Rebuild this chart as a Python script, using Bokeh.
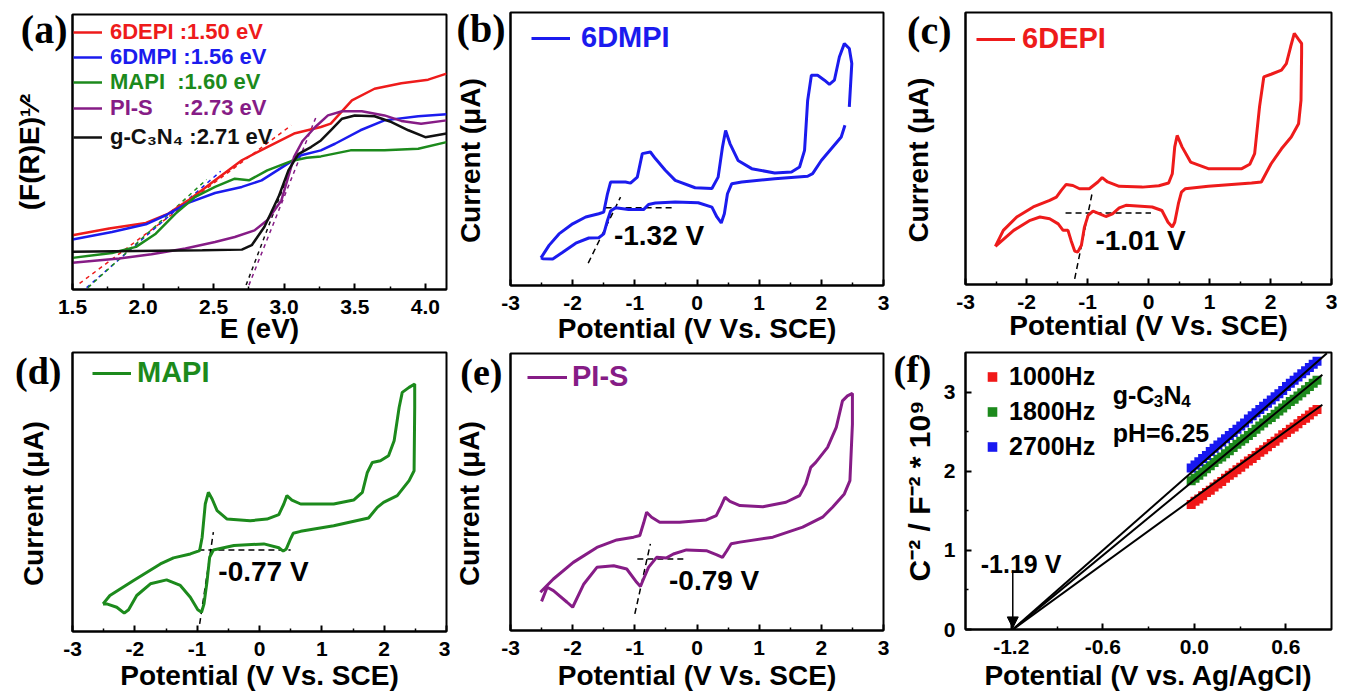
from bokeh.plotting import figure
from bokeh.layouts import row, column
from bokeh.models import (Range1d, FixedTicker, NumeralTickFormatter, Label, Legend,
                          LegendItem, Arrow, NormalHead, LinearAxis)
from bokeh.core.properties import value
from bokeh.embed import file_html
from bokeh.resources import INLINE

SANS = "Liberation Sans"
SERIF = "Liberation Serif"
RED = "#ee1b1b"
BLUE = "#1b1bee"
GREEN = "#1c8a1c"
PURPLE = "#861c86"
BLACK = "#111111"
NB = "\u00a0"

# ---------------- (a) Tauc plot data ----------------
a_red_x = [1.50, 1.76, 2.02, 2.18, 2.32, 2.51, 2.70, 2.88, 3.07, 3.26, 3.33, 3.48, 3.64, 3.83, 4.02, 4.15]
a_red_y = [19.7, 22.2, 24.2, 27.6, 32.4, 39.7, 47.0, 51.8, 56.7, 59.1, 60.3, 68.8, 73.0, 75.0, 76.3, 78.5]
a_blue_x = [1.50, 1.78, 2.02, 2.16, 2.32, 2.51, 2.70, 2.84, 2.99, 3.12, 3.26, 3.36, 3.54, 3.71, 3.95, 4.15]
a_blue_y = [18.2, 20.9, 23.7, 27.0, 31.5, 35.1, 37.3, 39.7, 44.6, 48.8, 50.6, 53.0, 57.9, 61.5, 63.0, 63.7]
a_green_x = [1.50, 1.78, 1.95, 2.09, 2.23, 2.37, 2.51, 2.65, 2.75, 2.88, 3.05, 3.16, 3.26, 3.47, 3.71, 3.95, 4.15]
a_green_y = [11.5, 13.3, 15.5, 20.3, 27.6, 33.7, 37.3, 40.3, 39.7, 43.3, 46.7, 47.9, 48.4, 50.6, 50.6, 51.2, 53.6]
a_purple_x = [1.50, 1.83, 2.06, 2.30, 2.51, 2.65, 2.79, 2.88, 2.98, 3.07, 3.13, 3.22, 3.31, 3.41, 3.55, 3.71, 3.83, 3.97, 4.15]
a_purple_y = [9.7, 11.3, 12.8, 14.9, 17.3, 19.1, 21.5, 25.2, 32.4, 48.2, 54.0, 59.1, 63.3, 64.8, 64.8, 63.3, 61.3, 60.3, 61.5]
a_black_x = [1.50, 1.95, 2.42, 2.70, 2.77, 2.86, 2.96, 3.03, 3.10, 3.19, 3.26, 3.33, 3.41, 3.50, 3.64, 3.76, 3.88, 4.00, 4.15]
a_black_y = [13.7, 14.0, 14.3, 14.5, 16.1, 22.8, 33.7, 43.3, 49.2, 51.8, 54.2, 57.9, 62.1, 63.3, 63.0, 60.9, 57.9, 55.4, 56.7]
a_tan_red_x, a_tan_red_y = [1.55, 3.05], [2.2, 59.7]
a_tan_blue_x, a_tan_blue_y = [1.60, 2.55], [0.7, 43.0]
a_tan_green_x, a_tan_green_y = [1.61, 2.45], [0.7, 40.0]
a_tan_purple_x, a_tan_purple_y = [2.75, 3.23], [1.6, 63.3]
a_tan_black_x, a_tan_black_y = [2.73, 3.08], [1.6, 48.8]
a_labels = ["6DEPI :1.50 eV", "6DMPI :1.56 eV", "MAPI" + NB * 2 + ":1.60 eV",
            "PI-S" + NB * 5 + ":2.73 eV", "g-C\u2083N\u2084 :2.71 eV"]
a_ticks = [1.5, 2.0, 2.5, 3.0, 3.5, 4.0]
a_minor = [1.75, 2.25, 2.75, 3.25, 3.75]

# ---------------- CV data (b)-(e) ----------------
cv_ticks = [-3, -2, -1, 0, 1, 2, 3]
cv_minor = [-2.5, -1.5, -0.5, 0.5, 1.5, 2.5]

b_up_x = [-2.51, -2.38, -2.22, -2.00, -1.79, -1.58, -1.50, -1.44, -1.39, -1.15, -1.07, -0.96, -0.88, -0.75,
          -0.67, -0.51, -0.35, -0.03, 0.24, 0.34, 0.41, 0.46, 0.53, 0.66, 0.88, 1.25, 1.52, 1.65, 1.73, 1.78,
          1.84, 1.94, 2.05, 2.13, 2.21, 2.29, 2.37, 2.45, 2.49, 2.45]
b_up_y = [10.1, 14.7, 18.9, 22.6, 25.1, 26.3, 26.9, 33.6, 37.9, 37.9, 37.5, 39.7, 48.3, 48.9, 46.5, 42.2,
          38.5, 35.8, 35.5, 39.7, 50.7, 56.8, 52.0, 45.8, 42.8, 41.2, 41.6, 43.4, 49.5, 67.8, 77.0, 77.0,
          75.2, 73.7, 75.2, 83.7, 88.6, 86.8, 81.3, 65.4]
b_dn_x = [2.38, 2.32, 2.16, 2.00, 1.86, 1.78, 1.25, 0.72, 0.56, 0.49, 0.44, 0.39, 0.32, 0.24, 0.02, -0.35,
          -0.67, -0.78, -0.86, -1.10, -1.31, -1.39, -1.44, -1.50, -1.58, -1.74, -1.95, -2.16, -2.32, -2.48, -2.51]
b_dn_y = [58.7, 54.4, 50.1, 45.8, 41.0, 40.0, 39.1, 37.9, 37.3, 33.6, 26.3, 22.9, 25.1, 28.7, 30.3, 30.6,
          30.2, 29.7, 27.8, 27.8, 28.5, 27.3, 23.8, 18.9, 17.5, 17.4, 15.5, 12.2, 9.7, 9.8, 10.1]

c_x = [-2.51, -2.38, -2.16, -1.89, -1.62, -1.51, -1.43, -1.35, -1.24, -1.13, -0.97, -0.83, -0.76, -0.67,
       -0.48, -0.10, 0.17, 0.33, 0.39, 0.43, 0.47, 0.55, 0.69, 0.98, 1.53, 1.66, 1.74, 1.82, 1.89, 2.01,
       2.18, 2.26, 2.33, 2.39, 2.46, 2.51, 2.51, 2.50, 2.46, 2.34, 2.18, 2.01, 1.85, 1.69, 0.98, 0.60,
       0.54, 0.49, 0.43, 0.39, 0.32, 0.22, 0.06, -0.37, -0.48, -0.59, -0.70, -0.80, -0.91, -0.99, -1.05,
       -1.10, -1.16, -1.21, -1.27, -1.32, -1.40, -1.48, -1.62, -1.78, -1.94, -2.21, -2.43, -2.51]
c_y = [14.0, 19.9, 24.8, 28.5, 30.9, 32.1, 34.6, 36.8, 36.4, 35.2, 35.2, 37.7, 39.3, 37.7, 36.1, 35.8,
       36.3, 37.3, 40.7, 50.6, 54.8, 50.6, 45.0, 42.6, 42.6, 44.2, 48.1, 65.3, 76.3, 77.3, 78.8, 81.2,
       87.4, 92.3, 90.1, 88.6, 84.9, 67.7, 59.1, 54.2, 49.9, 44.4, 37.7, 37.3, 36.1, 35.2, 34.0, 29.7,
       22.9, 21.1, 22.9, 27.2, 28.5, 29.1, 28.2, 26.0, 25.0, 26.0, 27.0, 25.4, 21.1, 14.4, 11.9, 12.3,
       16.2, 19.9, 19.9, 22.3, 24.2, 24.8, 23.6, 19.9, 15.6, 14.0]

d_x = [-2.51, -2.40, -2.02, -1.59, -1.38, -1.11, -0.96, -0.92, -0.87, -0.82, -0.76, -0.68, -0.52, -0.15,
       0.12, 0.31, 0.39, 0.44, 0.52, 0.66, 1.19, 1.51, 1.65, 1.73, 1.81, 1.94, 2.07, 2.16, 2.24, 2.29,
       2.40, 2.49, 2.49, 2.48, 2.40, 2.21, 1.99, 1.89, 1.75, 1.19, 0.66, 0.54, 0.49, 0.43, 0.38, 0.31,
       0.07, -0.41, -0.74, -0.80, -0.84, -0.89, -0.93, -0.99, -1.11, -1.27, -1.49, -1.75, -1.97, -2.10,
       -2.17, -2.29, -2.45, -2.51]
d_y = [9.9, 12.9, 18.3, 24.2, 26.4, 27.8, 29.0, 33.8, 45.7, 49.9, 47.5, 43.3, 40.3, 39.7, 40.3, 41.9,
       45.7, 48.7, 47.1, 45.7, 45.7, 47.1, 49.9, 57.0, 60.6, 61.2, 63.0, 68.4, 80.3, 85.7, 87.5, 88.7,
       80.3, 57.6, 54.1, 48.7, 46.3, 44.5, 40.7, 37.9, 35.9, 35.2, 32.8, 29.6, 28.8, 30.0, 31.4, 30.8,
       29.2, 26.6, 18.3, 9.9, 6.9, 7.8, 12.3, 16.5, 18.5, 17.1, 12.9, 7.8, 6.6, 8.7, 9.9, 9.9]

e_x = [-2.52, -2.31, -1.99, -1.61, -1.29, -1.02, -0.92, -0.86, -0.81, -0.73, -0.60, -0.28, 0.15, 0.31,
       0.39, 0.45, 0.53, 0.69, 1.06, 1.43, 1.65, 1.75, 1.83, 1.91, 2.10, 2.24, 2.34, 2.42, 2.50, 2.50,
       2.46, 2.37, 2.18, 2.02, 1.70, 1.22, 0.69, 0.55, 0.48, 0.41, 0.31, 0.15, -0.17, -0.38, -0.49,
       -0.65, -0.78, -0.86, -0.91, -0.97, -1.13, -1.34, -1.61, -1.82, -2.00, -2.09, -2.31, -2.41, -2.50]
e_y = [13.8, 18.6, 24.6, 30.0, 32.7, 33.7, 34.3, 38.7, 42.7, 40.9, 39.1, 39.1, 39.9, 41.5, 45.1, 48.1,
       46.6, 45.1, 44.7, 46.3, 48.7, 52.9, 58.9, 60.7, 66.1, 73.3, 82.9, 84.7, 85.6, 74.5, 54.1, 49.3,
       44.5, 40.9, 37.3, 33.7, 31.9, 31.3, 28.8, 26.4, 27.4, 28.8, 29.1, 27.6, 26.2, 26.4, 22.8, 18.6,
       15.9, 17.4, 22.2, 23.4, 22.8, 16.8, 8.4, 10.2, 14.4, 15.6, 10.5]

b_h_x, b_h_y = [-1.47, -0.38], [28.5, 28.5]
b_s_x, b_s_y = [-1.75, -1.23], [8.2, 32.4]
c_h_x, c_h_y = [-1.36, 0.04], [26.3, 26.3]
c_s_x, c_s_y = [-1.21, -0.92], [2.1, 34.0]
d_h_x, d_h_y = [-0.98, 0.50], [29.2, 29.2]
d_s_x, d_s_y = [-0.96, -0.74], [2.7, 35.6]
e_h_x, e_h_y = [-0.96, -0.18], [25.8, 25.8]
e_s_x, e_s_y = [-1.00, -0.75], [6.0, 31.3]

# ---------------- (f) Mott-Schottky data ----------------
f_x = [-0.02, 0.005, 0.03, 0.055, 0.08, 0.105, 0.13, 0.155, 0.18, 0.205, 0.23, 0.255, 0.28, 0.305, 0.33,
       0.355, 0.38, 0.405, 0.43, 0.455, 0.48, 0.505, 0.53, 0.555, 0.58, 0.605, 0.63, 0.655, 0.68, 0.705,
       0.73, 0.755, 0.78, 0.805]
f_1000 = [1.58, 1.62, 1.65, 1.69, 1.73, 1.76, 1.80, 1.84, 1.87, 1.91, 1.95, 1.98, 2.02, 2.05, 2.09, 2.13,
          2.16, 2.20, 2.24, 2.27, 2.31, 2.35, 2.38, 2.42, 2.46, 2.49, 2.53, 2.56, 2.60, 2.64, 2.67, 2.71,
          2.75, 2.78]
f_1800 = [1.88, 1.91, 1.95, 1.99, 2.03, 2.07, 2.11, 2.15, 2.18, 2.22, 2.26, 2.30, 2.34, 2.38, 2.41, 2.45,
          2.49, 2.53, 2.57, 2.61, 2.65, 2.68, 2.72, 2.76, 2.80, 2.84, 2.88, 2.91, 2.95, 2.99, 3.03, 3.07,
          3.11, 3.15]
f_2700 = [2.04, 2.08, 2.12, 2.16, 2.20, 2.25, 2.29, 2.33, 2.37, 2.41, 2.45, 2.49, 2.53, 2.57, 2.61, 2.66,
          2.70, 2.74, 2.78, 2.82, 2.86, 2.90, 2.94, 2.98, 3.02, 3.07, 3.11, 3.15, 3.19, 3.23, 3.27, 3.31,
          3.35, 3.39]
fit_1000_x, fit_1000_y = [-1.19, 0.84], [0.0, 2.84]
fit_1800_x, fit_1800_y = [-1.19, 0.84], [0.0, 3.22]
fit_2700_x, fit_2700_y = [-1.19, 0.87], [0.0, 3.49]
f_xticks = [-1.2, -0.6, 0.0, 0.6]
f_xminor = [-0.9, -0.3, 0.3]
f_yticks = [0, 1, 2, 3]
f_yminor = [0.5, 1.5, 2.5]
flatband = -1.19


def base(w, h, l, r, t, b, xr, yr):
    p = figure(width=w, height=h, x_range=Range1d(*xr), y_range=Range1d(*yr),
               output_backend="svg", toolbar_location=None,
               min_border_left=l, min_border_right=r, min_border_top=t, min_border_bottom=b)
    p.xgrid.visible = False
    p.ygrid.visible = False
    p.outline_line_color = "black"
    p.outline_line_width = 2
    p.outline_line_alpha = 1.0
    p.border_fill_color = "white"
    p.background_fill_color = "white"
    return p


def style_axis(ax, ticks, minor, fmt, standoff=10):
    ax.ticker = FixedTicker(ticks=ticks, minor_ticks=minor)
    ax.formatter = NumeralTickFormatter(format=fmt)
    ax.axis_line_width = 2
    ax.axis_line_color = "black"
    ax.major_tick_line_width = 2
    ax.minor_tick_line_width = 1.5
    ax.major_tick_in = 6
    ax.major_tick_out = 0
    ax.minor_tick_in = 3
    ax.minor_tick_out = 0
    ax.major_label_text_font = SANS
    ax.major_label_text_font_style = "bold"
    ax.major_label_text_font_size = "21px"
    ax.major_label_text_color = "black"
    ax.major_label_standoff = standoff


def axis_title(ax, text, standoff, size=28):
    ax.axis_label = text
    ax.axis_label_text_font = SANS
    ax.axis_label_text_font_style = "bold"
    ax.axis_label_text_font_size = f"{size}px"
    ax.axis_label_text_color = "black"
    ax.axis_label_standoff = standoff


def panel_letter(ax, letter, y, standoff, lo, hi, line=True, size=40):
    # the panel letter is the tick label of a left axis; blank ticks at both ends keep it in place
    ax.ticker = FixedTicker(ticks=[lo, y, hi], minor_ticks=[])
    ax.major_label_overrides = {lo: NB, y: letter, hi: NB}
    ax.major_label_text_font = SERIF
    ax.major_label_text_font_style = "bold"
    ax.major_label_text_font_size = f"{size}px"
    ax.major_label_text_color = "black"
    ax.major_label_standoff = standoff
    ax.major_tick_in = 0
    ax.major_tick_out = 0
    ax.minor_tick_in = 0
    ax.minor_tick_out = 0
    ax.major_tick_line_color = None
    ax.minor_tick_line_color = None
    if line:
        ax.axis_line_width = 2
        ax.axis_line_color = "black"
    else:
        ax.axis_line_color = None


def txt(p, x, y, s, size, color="black", align="left", baseline="alphabetic"):
    p.add_layout(Label(x=x, y=y, text=s, text_font=SANS, text_font_size=f"{size}px",
                       text_font_style="bold", text_color=color, text_align=align,
                       text_baseline=baseline))


def legend1(p, renderer, label, color, loc, gw, standoff, size, h):
    leg = Legend(items=[LegendItem(label=value(label), renderers=[renderer])], location=loc,
                 glyph_width=gw, glyph_height=h, label_height=h, label_standoff=standoff,
                 label_text_font=SANS, label_text_font_style="bold",
                 label_text_font_size=f"{size}px", label_text_color=color,
                 padding=0, margin=0, spacing=0,
                 background_fill_alpha=0, border_line_alpha=0)
    p.add_layout(leg)


# ---------------- panel (a) ----------------
pa = base(450, 350, 70, 4, 14, 61, (1.5, 4.15), (0, 100))
style_axis(pa.xaxis[0], a_ticks, a_minor, "0.0", standoff=10)
axis_title(pa.xaxis[0], "E (eV)", -4)
panel_letter(pa.yaxis[0], "(a)", 94.65, 5, 0.01, 99.99)
axis_title(pa.yaxis[0], "(F(R)E)\u00b9\u2044\u00b2", -27)
for tx, ty, col in [(a_tan_red_x, a_tan_red_y, RED), (a_tan_blue_x, a_tan_blue_y, BLUE),
                    (a_tan_green_x, a_tan_green_y, GREEN), (a_tan_purple_x, a_tan_purple_y, PURPLE),
                    (a_tan_black_x, a_tan_black_y, BLACK)]:
    pa.line(tx, ty, line_color=col, line_width=1.5, line_dash="4 4")
ra_r = pa.line(a_red_x, a_red_y, line_color=RED, line_width=2.5)
ra_b = pa.line(a_blue_x, a_blue_y, line_color=BLUE, line_width=2.5)
ra_g = pa.line(a_green_x, a_green_y, line_color=GREEN, line_width=2.5)
ra_p = pa.line(a_purple_x, a_purple_y, line_color=PURPLE, line_width=2.5)
ra_k = pa.line(a_black_x, a_black_y, line_color=BLACK, line_width=2.5)
for rr, lab, col, vy in [(ra_r, a_labels[0], RED, 244), (ra_b, a_labels[1], BLUE, 219),
                         (ra_g, a_labels[2], GREEN, 194), (ra_p, a_labels[3], PURPLE, 168),
                         (ra_k, a_labels[4], BLACK, 139)]:
    legend1(pa, rr, lab, col, (1, vy), 29, 8, 22, 24)


# ---------------- CV panels ----------------
def cv_panel(w, h, l, r, t, b, lines, color, name, leg_loc, gw, so, hx, hy, sx, sy,
             vtext, vx, vy, letter, ly, lso, ylso, nb, xlso, lsize=40):
    p = base(w, h, l, r, t, b, (-3, 3), (0, 100))
    style_axis(p.xaxis[0], cv_ticks, cv_minor, "0", standoff=10)
    axis_title(p.xaxis[0], "Potential (V Vs. SCE)", xlso)
    panel_letter(p.yaxis[0], letter, ly, lso, 0.01, 99.99, size=lsize)
    axis_title(p.yaxis[0], "Current (\u03bcA)" + NB * nb, ylso)
    p.line(hx, hy, line_color="black", line_width=1.5, line_dash="6 4")
    p.line(sx, sy, line_color="black", line_width=1.5, line_dash="6 4")
    rr = None
    for lx_, ly_ in lines:
        r_ = p.line(lx_, ly_, line_color=color, line_width=3)
        rr = rr or r_
    legend1(p, rr, name, color, leg_loc, gw, so, 29, 32)
    txt(p, vx, vy, vtext, 28, baseline="middle")
    return p


pb = cv_panel(440, 350, 58, 7, 12, 65, [(b_up_x, b_up_y), (b_dn_x, b_dn_y)], BLUE, "6DMPI",
              (21, 231), 39, 11, b_h_x, b_h_y, b_s_x, b_s_y, "-1.32 V", -1.336, 18.3,
              "(b)", 94.06, 5, -32, 3, 0)
pc = cv_panel(459, 347, 72, 18, 12, 63, [(c_x, c_y)], RED, "6DEPI",
              (11, 229), 39, 7, c_h_x, c_h_y, c_s_x, c_s_y, "-1.01 V", -0.87, 16.2,
              "(c)", 93.48, 14, -30, 3, -2)
pd = cv_panel(450, 347, 72, 4, 2, 66, [(d_x, d_y)], GREEN, "MAPI",
              (20, 242), 39, 6, d_h_x, d_h_y, d_s_x, d_s_y, "-0.77 V", -0.66, 21.6,
              "(d)", 93.2, 11, -37, 3, 1, lsize=38)
pe = cv_panel(440, 347, 60, 6, 3, 67, [(e_x, e_y)], PURPLE, "PI-S",
              (17, 237), 40, 5, e_h_x, e_h_y, e_s_x, e_s_y, "-0.79 V", -0.45, 18.0,
              "(e)", 93.5, 8, -28, 3, 2, lsize=38)

# ---------------- panel (f) ----------------
pf = base(459, 350, 73, 13, 5, 68, (-1.5, 0.9), (0, 3.5))
style_axis(pf.xaxis[0], f_xticks, f_xminor, "0.0", standoff=10)
axis_title(pf.xaxis[0], "Potential (V vs. Ag/AgCl)", 3)
style_axis(pf.yaxis[0], f_yticks, f_yminor, "0", standoff=10)
axis_title(pf.yaxis[0], "C\u207b\u00b2 / F\u207b\u00b2 * 10\u2079", 5, size=30)
f_letter_axis = LinearAxis()
panel_letter(f_letter_axis, "(f)", 3.298, -32, 0.001, 3.499, line=False, size=38)
pf.add_layout(f_letter_axis, "left")
s1 = pf.scatter(f_x, f_1000, marker="square", size=9, fill_color="#f01818", line_color=None)
s2 = pf.scatter(f_x, f_1800, marker="square", size=9, fill_color="#1c8a1c", line_color=None)
s3 = pf.scatter(f_x, f_2700, marker="square", size=9, fill_color="#1818f0", line_color=None)
for fx, fy in [(fit_1000_x, fit_1000_y), (fit_1800_x, fit_1800_y), (fit_2700_x, fit_2700_y)]:
    pf.line(fx, fy, line_color="black", line_width=2)
legf = Legend(items=[LegendItem(label=value("1000Hz"), renderers=[s1]),
                     LegendItem(label=value("1800Hz"), renderers=[s2]),
                     LegendItem(label=value("2700Hz"), renderers=[s3])],
              location=(15, 168), glyph_width=24, glyph_height=29, label_height=29,
              label_standoff=5, spacing=6, padding=0, margin=0,
              label_text_font=SANS, label_text_font_style="bold", label_text_font_size="25px",
              label_text_color="black", background_fill_alpha=0, border_line_alpha=0)
pf.add_layout(legf)
pf.add_layout(Arrow(end=NormalHead(size=11, fill_color="black", line_color="black"),
                    x_start=flatband, y_start=0.75, x_end=flatband, y_end=0.02,
                    line_color="black", line_width=1.5))
txt(pf, -1.40, 0.83, "-1.19 V", 25)
txt(pf, -0.535, 2.957, "g-C", 25)
txt(pf, -0.265, 2.881, "3", 17)
txt(pf, -0.201, 2.957, "N", 25)
txt(pf, -0.085, 2.881, "4", 17)
txt(pf, -0.535, 2.477, "pH=6.25", 25)

layout = row(column(pa, pd), column(pb, pe), column(pc, pf))
open("out.html", "w").write(file_html(layout, INLINE))
